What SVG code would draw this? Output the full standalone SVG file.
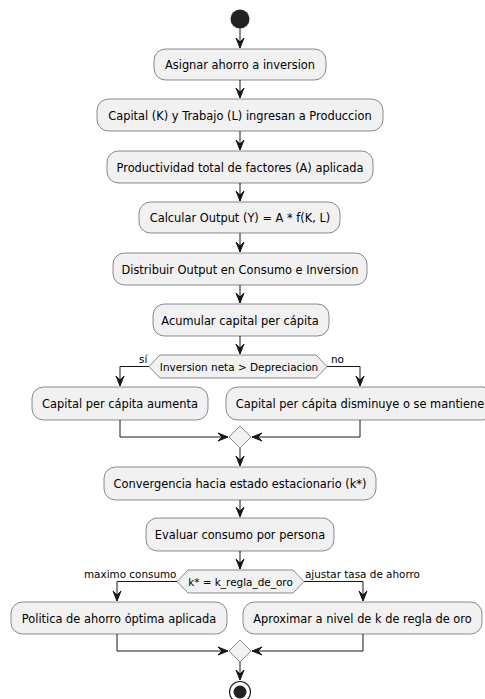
<svg xmlns="http://www.w3.org/2000/svg" width="485" height="699" viewBox="0 0 485 699">
<style>
.box{fill:#F1F1F1;stroke:#181818;stroke-width:0.5}
.t{font-family:"DejaVu Sans",sans-serif;font-size:11.4px;fill:#000;text-anchor:middle}
.dt{font-family:"DejaVu Sans",sans-serif;font-size:10.45px;fill:#000;text-anchor:middle}
.l{font-family:"DejaVu Sans",sans-serif;font-size:10.4px;fill:#000}
.c{fill:none;stroke:#181818;stroke-width:1}
.ah{fill:#181818;stroke:#181818;stroke-width:1}
</style>
<defs>
<path id="ad" d="M-4,-10 L0,0 L4,-10 L0,-6 Z" class="ah"/>
</defs>
<rect width="485" height="699" fill="#FFFFFF"/>
<g id="start"><circle cx="240" cy="19" r="9.5" fill="#222222"/></g>
<g id="n1"><rect class="box" x="154" y="49" width="172" height="31" rx="11.5"/><text class="t" x="240" y="69">Asignar ahorro a inversion</text></g>
<g id="n2"><rect class="box" x="97" y="99" width="286" height="32" rx="11.5"/><text class="t" x="240" y="119.5">Capital (K) y Trabajo (L) ingresan a Produccion</text></g>
<g id="n3"><rect class="box" x="107" y="151" width="266" height="32" rx="11.5"/><text class="t" x="240" y="171.5">Productividad total de factores (A) aplicada</text></g>
<g id="n4"><rect class="box" x="139" y="202" width="201" height="31" rx="11.5"/><text class="t" x="240" y="222">Calcular Output (Y) = A * f(K, L)</text></g>
<g id="n5"><rect class="box" x="113" y="253" width="254" height="32" rx="11.5"/><text class="t" x="240" y="273.5">Distribuir Output en Consumo e Inversion</text></g>
<g id="n6"><rect class="box" x="153" y="304" width="176" height="32" rx="11.5"/><text class="t" x="240" y="324.5">Acumular capital per cápita</text></g>
<g id="d1"><polygon class="box" points="149,366.5 160,355 316,355 327,366.5 316,378 160,378"/><text class="dt" x="239" y="370.5">Inversion neta &gt; Depreciacion</text></g>
<g id="n7"><rect class="box" x="32" y="387" width="176" height="33" rx="11.5"/><text class="t" x="120" y="408">Capital per cápita aumenta</text></g>
<g id="n8"><rect class="box" x="226" y="387" width="268" height="33" rx="11.5"/><text class="t" x="360" y="408">Capital per cápita disminuye o se mantiene</text></g>
<g id="m1"><polygon class="box" points="240,426 251,437 240,448 229,437"/></g>
<g id="n9"><rect class="box" x="104" y="467" width="272" height="33" rx="11.5"/><text class="t" x="240" y="488">Convergencia hacia estado estacionario (k*)</text></g>
<g id="n10"><rect class="box" x="146" y="518" width="188" height="33" rx="11.5"/><text class="t" x="240" y="539">Evaluar consumo por persona</text></g>
<g id="d2"><polygon class="box" points="177,581.5 188,570 293,570 304,581.5 293,593 188,593"/><text class="dt" x="240.5" y="585.5">k* = k_regla_de_oro</text></g>
<g id="n11"><rect class="box" x="11" y="602" width="216" height="32" rx="11.5"/><text class="t" x="119" y="622.5">Politica de ahorro óptima aplicada</text></g>
<g id="n12"><rect class="box" x="243" y="602" width="239" height="32" rx="11.5"/><text class="t" x="362.5" y="622.5">Aproximar a nivel de k de regla de oro</text></g>
<g id="m2"><polygon class="box" points="240,640 251,651 240,662 229,651"/></g>
<g id="end"><circle cx="240" cy="692" r="10.5" fill="none" stroke="#222222" stroke-width="1.2"/><circle cx="240" cy="692" r="6.5" fill="#222222"/></g>
<g id="connectors">
<path class="c" d="M240,28.5 V48"/><use href="#ad" x="240" y="48"/>
<path class="c" d="M240,80 V98"/><use href="#ad" x="240" y="98"/>
<path class="c" d="M240,131 V150"/><use href="#ad" x="240" y="150"/>
<path class="c" d="M240,183 V201"/><use href="#ad" x="240" y="201"/>
<path class="c" d="M240,233 V252"/><use href="#ad" x="240" y="252"/>
<path class="c" d="M240,285 V303"/><use href="#ad" x="240" y="303"/>
<path class="c" d="M240,336 V354"/><use href="#ad" x="240" y="354"/>
<path class="c" d="M149,366.5 H120 V386"/><use href="#ad" x="120" y="386"/>
<path class="c" d="M327,366.5 H360 V386"/><use href="#ad" x="360" y="386"/>
<path class="c" d="M120,420 V437 H228"/><use href="#ad" transform="translate(228,437) rotate(-90)"/>
<path class="c" d="M360,420 V437 H252"/><use href="#ad" transform="translate(252,437) rotate(90)"/>
<path class="c" d="M240,448 V466"/><use href="#ad" x="240" y="466"/>
<path class="c" d="M240,500 V517"/><use href="#ad" x="240" y="517"/>
<path class="c" d="M240,551 V569"/><use href="#ad" x="240" y="569"/>
<path class="c" d="M177,581.5 H117 V601"/><use href="#ad" x="117" y="601"/>
<path class="c" d="M304,581.5 H363 V601"/><use href="#ad" x="363" y="601"/>
<path class="c" d="M117,634 V651 H228"/><use href="#ad" transform="translate(228,651) rotate(-90)"/>
<path class="c" d="M363,634 V651 H252"/><use href="#ad" transform="translate(252,651) rotate(90)"/>
<path class="c" d="M240,662 V680"/><use href="#ad" x="240" y="680"/>
<text class="l" x="139" y="363">sí</text>
<text class="l" x="331" y="363">no</text>
<text class="l" x="84" y="578">maximo consumo</text>
<text class="l" x="305" y="578">ajustar tasa de ahorro</text>
</g>
</svg>
